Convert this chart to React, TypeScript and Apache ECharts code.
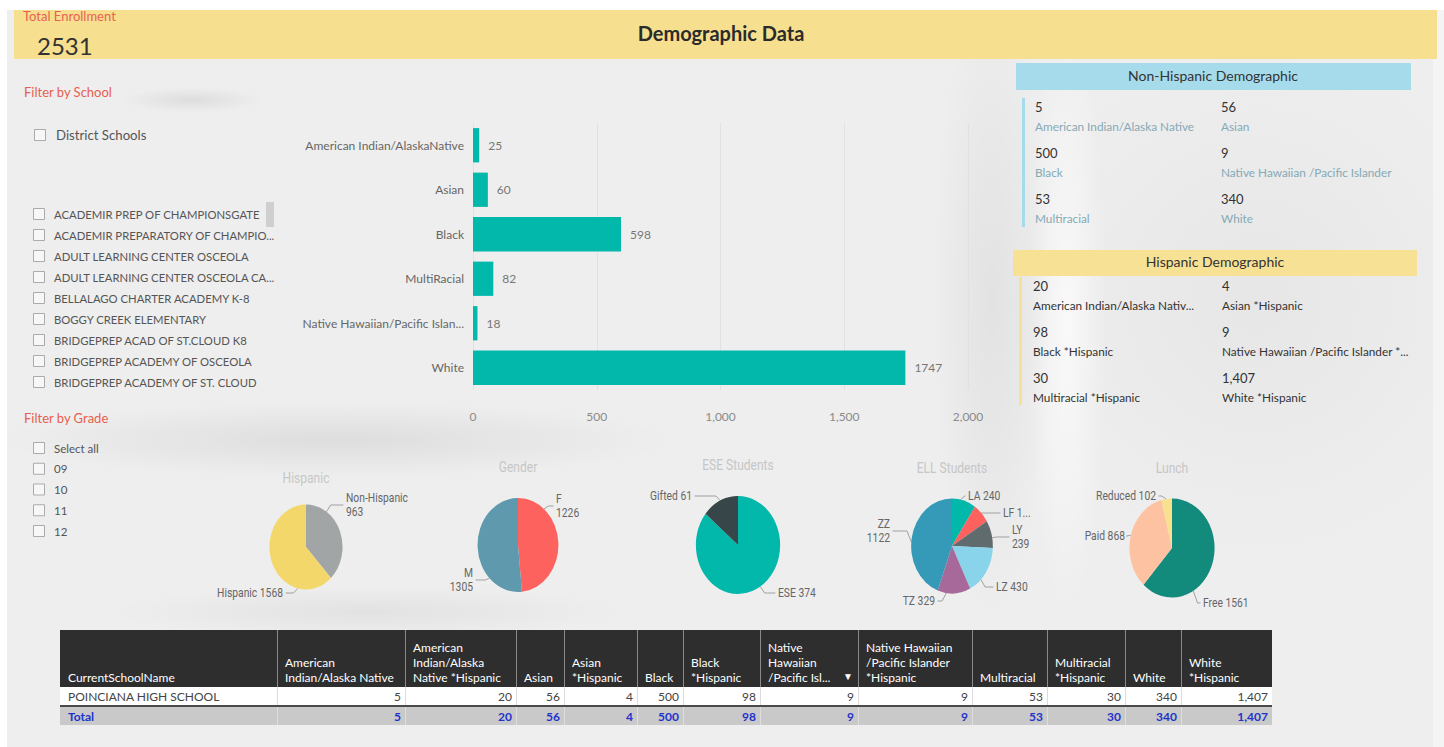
import React, { useEffect, useRef } from 'react';
import * as echarts from 'echarts';

// ---------------- DATA ----------------
const totalEnrollment = 2531;
const dashboardTitle = 'Demographic Data';

const schoolList = [
  'ACADEMIR PREP OF CHAMPIONSGATE',
  'ACADEMIR PREPARATORY OF CHAMPIO...',
  'ADULT LEARNING CENTER OSCEOLA',
  'ADULT LEARNING CENTER OSCEOLA CA...',
  'BELLALAGO CHARTER ACADEMY K-8',
  'BOGGY CREEK ELEMENTARY',
  'BRIDGEPREP ACAD OF ST.CLOUD K8',
  'BRIDGEPREP ACADEMY OF OSCEOLA',
  'BRIDGEPREP ACADEMY OF ST. CLOUD',
];
const gradeList = ['Select all', '09', '10', '11', '12'];

const raceCategories = [
  'American Indian/AlaskaNative',
  'Asian',
  'Black',
  'MultiRacial',
  'Native Hawaiian/Pacific Islan...',
  'White',
];
const raceTotals = [25, 60, 598, 82, 18, 1747];

const nonHispLabels = [
  'American Indian/Alaska Native',
  'Asian',
  'Black',
  'Native Hawaiian /Pacific Islander',
  'Multiracial',
  'White',
];
const nonHispValues = [5, 56, 500, 9, 53, 340];

const hispLabels = [
  'American Indian/Alaska Nativ...',
  'Asian *Hispanic',
  'Black *Hispanic',
  'Native Hawaiian /Pacific Islander *...',
  'Multiracial *Hispanic',
  'White *Hispanic',
];
const hispValues = [20, 4, 98, 9, 30, 1407];

const hispanicNames = ['Non-Hispanic', 'Hispanic'];
const hispanicValues = [963, 1568];
const genderNames = ['F', 'M'];
const genderValues = [1226, 1305];
const eseNames = ['ESE', 'Gifted'];
const eseValues = [374, 61];
const ellNames = ['LA', 'LF', 'LY', 'LZ', 'TZ', 'ZZ'];
const ellValues = [240, 171, 239, 430, 329, 1122];
const lunchNames = ['Free', 'Paid', 'Reduced'];
const lunchValues = [1561, 868, 102];

const tableHeaders = [
  'CurrentSchoolName',
  'American\nIndian/Alaska Native',
  'American\nIndian/Alaska\nNative *Hispanic',
  'Asian',
  'Asian\n*Hispanic',
  'Black',
  'Black\n*Hispanic',
  'Native\nHawaiian\n/Pacific Isl...',
  'Native Hawaiian\n/Pacific Islander\n*Hispanic',
  'Multiracial',
  'Multiracial\n*Hispanic',
  'White',
  'White\n*Hispanic',
];
const tableSchool = 'POINCIANA HIGH SCHOOL';
const tableRowValues = [5, 20, 56, 4, 500, 98, 9, 9, 53, 30, 340, 1407];
const tableTotalLabel = 'Total';
const tableTotalValues = [5, 20, 56, 4, 500, 98, 9, 9, 53, 30, 340, 1407];

// ---------------- LAYOUT / STYLE ----------------
const FONT = 'Lato, "Open Sans", sans-serif';
const PIE_FONT = 'Roboto, Lato, sans-serif';
const RED = '#E8604F';
const TEAL = '#01B8AA';

const PIE_L = 200;
const PIE_T = 440;
const S = 0.86;
const PIE_W = 1260;
const PIE_H = 190;

const colEdges = [60, 277, 405, 516, 564, 637, 683, 760, 858, 972, 1047, 1125, 1181, 1272];
const HEAD_T = 630;
const HEAD_B = 687;
const ROW_B = 706;
const TOT_B = 725;

const fmt = (v: number) => v.toLocaleString('en-US');

function text(x: number, y: number, t: string, o: any = {}) {
  const align = o.align || 'left';
  const va = o.va || 'middle';
  return {
    type: 'text',
    x,
    y,
    silent: true,
    z: o.z || 10,
    style: {
      text: t,
      fill: o.fill || '#555',
      fontSize: o.size || 12,
      fontFamily: o.family || FONT,
      fontWeight: o.weight || 'normal',
      lineHeight: o.lh,
      align,
      verticalAlign: va,
      textAlign: align,
      textVerticalAlign: va,
    },
  };
}
function rect(x: number, y: number, w: number, h: number, fill: string, o: any = {}) {
  return {
    type: 'rect',
    silent: true,
    z: o.z || 5,
    shape: { x, y, width: w, height: h },
    style: { fill, stroke: o.stroke, lineWidth: o.lw || 0 },
  };
}
function line(x1: number, y1: number, x2: number, y2: number, stroke: string, lw = 1) {
  return { type: 'line', silent: true, z: 8, shape: { x1, y1, x2, y2 }, style: { stroke, lineWidth: lw } };
}
function checkbox(x: number, yc: number) {
  return rect(x + 0.5, yc - 5.5, 11, 11, '#f7f7f7', { stroke: '#ababab', lw: 1 });
}

function buildMainGraphics() {
  const g: any[] = [];
  // header band
  g.push(rect(14, 10, 1423, 49, '#F6E08F', { z: 2 }));
  g.push(text(23, 16, 'Total Enrollment', { fill: RED, size: 13 }));
  g.push(text(37, 45, String(totalEnrollment), { fill: '#333', size: 24 }));
  g.push(text(721, 33, dashboardTitle, { fill: '#2b2b2b', size: 20, weight: 'bold', align: 'center', family: '"Comic Sans MS", Lato, sans-serif' }));

  // school filter
  g.push(text(24, 92, 'Filter by School', { fill: RED, size: 13 }));
  g.push(checkbox(34, 135));
  g.push(text(56, 135, 'District Schools', { fill: '#555', size: 13.2 }));
  schoolList.forEach((s, i) => {
    const y = 214 + 21 * i;
    g.push(checkbox(33, y));
    g.push(text(54, y, s, { fill: '#555', size: 11.3 }));
  });
  g.push(rect(266, 202, 8, 25, '#cfcfcf'));

  // grade filter
  g.push(text(24, 418, 'Filter by Grade', { fill: RED, size: 13 }));
  gradeList.forEach((s, i) => {
    const y = 448 + 20.75 * i;
    g.push(checkbox(33, y));
    g.push(text(54, y, s, { fill: '#555', size: 11.5 }));
  });

  // Non-Hispanic cards
  g.push(rect(1016, 63, 395, 27, '#A6DBEB'));
  g.push(text(1213, 75, 'Non-Hispanic Demographic', { fill: '#333', size: 14, align: 'center' }));
  g.push(rect(1022, 98, 3, 129, '#A6DBEB'));
  nonHispLabels.forEach((lab, i) => {
    const x = i % 2 === 0 ? 1035 : 1221;
    const y = 107 + Math.floor(i / 2) * 46;
    g.push(text(x, y, fmt(nonHispValues[i]), { fill: '#333', size: 13 }));
    g.push(text(x, y + 19, lab, { fill: '#85A9B6', size: 11.8 }));
  });

  // Hispanic cards
  g.push(rect(1013, 250, 404, 26, '#F7E195'));
  g.push(text(1215, 261, 'Hispanic Demographic', { fill: '#333', size: 14, align: 'center' }));
  g.push(rect(1019, 277, 3, 128, '#F7E195'));
  hispLabels.forEach((lab, i) => {
    const x = i % 2 === 0 ? 1033 : 1222;
    const y = 286 + Math.floor(i / 2) * 46;
    g.push(text(x, y, fmt(hispValues[i]), { fill: '#333', size: 13 }));
    g.push(text(x, y + 19, lab, { fill: '#333', size: 11.8 }));
  });

  // table
  const L = colEdges[0];
  const R = colEdges[colEdges.length - 1];
  g.push(rect(L, HEAD_T, R - L, HEAD_B - HEAD_T, '#2E2E2E'));
  g.push(rect(L, HEAD_B, R - L, ROW_B - HEAD_B, '#FFFFFF'));
  g.push(rect(L, ROW_B, R - L, TOT_B - ROW_B, '#C9C9C9'));
  for (let i = 1; i < colEdges.length - 1; i++) {
    const x = colEdges[i] + 0.5;
    g.push(line(x, HEAD_T, x, HEAD_B, '#8a8a8a'));
    g.push(line(x, HEAD_B, x, ROW_B, '#dcdcdc'));
    g.push(line(x, ROW_B, x, TOT_B, '#dedede'));
  }
  g.push(line(L, ROW_B, R, ROW_B, '#4a4a4a', 2));
  tableHeaders.forEach((h, i) => {
    g.push(text(colEdges[i] + 8, HEAD_B - 2, h, { fill: '#fff', size: 12, va: 'bottom', lh: 15 }));
  });
  g.push(text(848, 676, '▼', { fill: '#fff', size: 10, align: 'center' }));
  g.push(text(colEdges[0] + 8, (HEAD_B + ROW_B) / 2, tableSchool, { fill: '#444', size: 12 }));
  g.push(text(colEdges[0] + 8, (ROW_B + TOT_B) / 2 + 1, tableTotalLabel, { fill: '#2233CC', size: 12, weight: 'bold' }));
  tableRowValues.forEach((v, i) => {
    g.push(text(colEdges[i + 2] - 4, (HEAD_B + ROW_B) / 2, fmt(v), { fill: '#444', size: 12, align: 'right' }));
  });
  tableTotalValues.forEach((v, i) => {
    g.push(text(colEdges[i + 2] - 4, (ROW_B + TOT_B) / 2 + 1, fmt(v), { fill: '#2233CC', size: 12, weight: 'bold', align: 'right' }));
  });
  return g;
}

function buildMain(): any {
  return {
    animation: false,
    backgroundColor: 'transparent',
    graphic: { elements: buildMainGraphics() },
    grid: { left: 473, right: 1444 - 968, top: 123, bottom: 747 - 390, containLabel: false },
    xAxis: {
      type: 'value',
      min: 0,
      max: 2000,
      interval: 500,
      axisLine: { show: false },
      axisTick: { show: false },
      axisLabel: { color: '#8a8a8a', fontSize: 12, fontFamily: FONT, margin: 20, formatter: (v: number) => fmt(v) },
      splitLine: { show: true, lineStyle: { color: '#e1e1e1', width: 1 } },
    },
    yAxis: {
      type: 'category',
      inverse: true,
      data: raceCategories,
      axisLine: { show: false },
      axisTick: { show: false },
      axisLabel: { color: '#666', fontSize: 12, fontFamily: FONT, margin: 9 },
    },
    series: [
      {
        type: 'bar',
        data: raceTotals,
        barCategoryGap: '23%',
        itemStyle: { color: TEAL },
        label: { show: true, position: 'right', distance: 9, color: '#777', fontSize: 12, fontFamily: FONT },
        silent: true,
      },
    ],
  };
}

// pie layout specs (reference pixel coords; a = angle on rim, clockwise from top)
const pieDefs = [
  {
    title: 'Hispanic', names: hispanicNames, values: hispanicValues,
    colors: ['#A1A5A6', '#F4D76B'], c: [306, 547], r: 42.5, titleY: 478,
    labels: [
      { x: 346, y: 505, align: 'left', a: 34, nl: true },
      { x: 283, y: 593, align: 'right', a: 193, nl: false },
    ],
  },
  {
    title: 'Gender', names: genderNames, values: genderValues,
    colors: ['#FD625E', '#5E99AD'], c: [518, 545], r: 47, titleY: 467,
    labels: [
      { x: 556, y: 506, align: 'left', a: 40, nl: true },
      { x: 473, y: 580, align: 'right', a: 225, nl: true },
    ],
  },
  {
    title: 'ESE Students', names: eseNames, values: eseValues,
    colors: [TEAL, '#374649'], c: [738, 545], r: 49, titleY: 465,
    labels: [
      { x: 778, y: 593, align: 'left', a: 148, nl: false },
      { x: 692, y: 496, align: 'right', a: 335, nl: false },
    ],
  },
  {
    title: 'ELL Students', names: ellNames, values: ellValues,
    colors: [TEAL, '#FD625E', '#5F6B6D', '#8AD4EB', '#A66999', '#3599B8'], c: [952, 546], r: 47.5, titleY: 468,
    labels: [
      { x: 968, y: 496, align: 'left', a: 12, nl: false },
      { x: 1003, y: 513, align: 'left', a: 46, nl: false, trunc: true },
      { x: 1012, y: 537, align: 'left', a: 80, nl: true },
      { x: 996, y: 587, align: 'left', a: 135, nl: false },
      { x: 935, y: 601, align: 'right', a: 188, nl: false },
      { x: 890, y: 531, align: 'right', a: 275, nl: true },
    ],
  },
  {
    title: 'Lunch', names: lunchNames, values: lunchValues,
    colors: ['#128B7C', '#FCC2A2', '#F8E08E'], c: [1172, 548], r: 49.5, titleY: 468,
    labels: [
      { x: 1203, y: 603, align: 'left', a: 150, nl: false },
      { x: 1125, y: 536, align: 'right', a: 285, nl: false },
      { x: 1156, y: 496, align: 'right', a: 352, nl: false },
    ],
  },
];

function buildPies(): any {
  const graphics: any[] = [];
  const series: any[] = pieDefs.map((d) => {
    const cx = (d.c[0] - PIE_L) / S;
    const cy = d.c[1] - PIE_T;
    graphics.push(text(cx, d.titleY - PIE_T, d.title, { fill: '#C6C6C6', size: 14, align: 'center', family: PIE_FONT }));
    return {
      type: 'pie',
      center: [cx, cy],
      radius: d.r,
      startAngle: 90,
      clockwise: true,
      avoidLabelOverlap: false,
      silent: true,
      data: d.names.map((n, i) => {
        const spec: any = d.labels[i];
        const item: any = { name: n, value: d.values[i], itemStyle: { color: d.colors[i] } };
        if (spec.trunc) item.label = { width: 37, overflow: 'truncate', ellipsis: '...' };
        return item;
      }),
      label: {
        show: true,
        color: '#666',
        fontSize: 12,
        fontFamily: PIE_FONT,
        lineHeight: 14,
        formatter: (p: any) => (d.labels[p.dataIndex].nl ? `${p.name}\n${p.value}` : `${p.name} ${p.value}`),
      },
      labelLine: { show: true, length: 5, length2: 8, lineStyle: { color: '#9a9a9a', width: 1 } },
      labelLayout: (p: any) => {
        const spec: any = d.labels[p.dataIndex];
        const lx = (spec.x - PIE_L) / S;
        const ly = spec.y - PIE_T;
        const dir = spec.align === 'left' ? 1 : -1;
        const ang = (spec.a * Math.PI) / 180;
        const ex = cx + d.r * Math.sin(ang);
        const ey = cy - d.r * Math.cos(ang);
        return {
          x: lx,
          y: ly,
          align: spec.align,
          verticalAlign: 'middle',
          labelLinePoints: [
            [ex, ey],
            [ex + dir * 5, ly],
            [lx - dir * 3, ly],
          ],
        };
      },
    };
  });
  return { animation: false, backgroundColor: 'transparent', graphic: { elements: graphics }, series };
}

const panelBg = [
  'radial-gradient(ellipse 70px 13px at 185px 100px, rgba(0,0,0,0.07), rgba(0,0,0,0) 100%)',
  'radial-gradient(ellipse 340px 38px at 330px 440px, rgba(0,0,0,0.07), rgba(0,0,0,0) 100%)',
  'radial-gradient(ellipse 260px 26px at 360px 612px, rgba(0,0,0,0.05), rgba(0,0,0,0) 100%)',
  'radial-gradient(ellipse 60px 320px at 985px 300px, rgba(0,0,0,0.05), rgba(0,0,0,0) 100%)',
  'radial-gradient(ellipse 40px 300px at 1060px 320px, rgba(255,255,255,0.7), rgba(255,255,255,0) 100%)',
  'radial-gradient(ellipse 260px 260px at 1250px 300px, rgba(0,0,0,0.03), rgba(0,0,0,0) 100%)',
  'linear-gradient(#EEEEEE, #EEEEEE)',
].join(',');

export default function App() {
  const mainRef = useRef<HTMLDivElement>(null);
  const pieRef = useRef<HTMLDivElement>(null);
  useEffect(() => {
    const main = echarts.init(mainRef.current!, undefined, { renderer: 'svg' });
    main.setOption(buildMain());
    const pie = echarts.init(pieRef.current!, undefined, { renderer: 'svg' });
    pie.setOption(buildPies());
    return () => {
      main.dispose();
      pie.dispose();
    };
  }, []);
  return (
    <div style={{ position: 'fixed', left: 0, top: 0, width: 1444, height: 747, background: '#F4F4F4', overflow: 'hidden' }}>
      <div style={{ position: 'absolute', left: 0, top: 0, width: 7, height: 747, background: '#fff' }} />
      <div style={{ position: 'absolute', left: 7, top: 0, width: 1426, height: 747, background: panelBg }} />
      <div style={{ position: 'absolute', left: 7, top: 0, width: 1437, height: 10, background: '#fff' }} />
      <div ref={mainRef} style={{ position: 'absolute', left: 0, top: 0, width: 1444, height: 747 }} />
      <div
        ref={pieRef}
        style={{
          position: 'absolute',
          left: PIE_L,
          top: PIE_T,
          width: PIE_W,
          height: PIE_H,
          transform: `scaleX(${S})`,
          transformOrigin: '0 0',
        }}
      />
    </div>
  );
}
